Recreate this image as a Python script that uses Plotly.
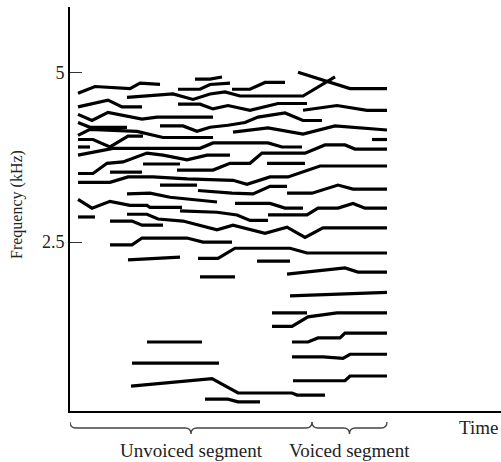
import plotly.graph_objects as go

# Formant-like tracks: time (arbitrary units, 0 = start of recording) and frequency (kHz)
track_times = [
    [8, 25, 60, 70, 90],
    [125, 140, 152],
    [108, 130, 140, 160],
    [162, 180, 195, 215],
    [228, 260, 280, 317],
    [57, 103, 123, 140, 155, 170, 233, 265],
    [8, 38, 52, 72],
    [108, 130, 143, 158, 180, 208, 237],
    [233, 267, 297, 317],
    [8, 22, 38, 72, 87, 143],
    [90, 113, 127, 140, 158, 175, 188, 215, 233, 252],
    [163, 198, 233, 265, 317],
    [302, 317],
    [8, 20, 57],
    [8, 20, 67, 93, 143],
    [8, 23, 40, 58, 73],
    [8, 20],
    [8, 43, 130, 143, 198, 212, 232],
    [8, 23, 37, 53, 77, 93, 117, 137, 160],
    [73, 110],
    [40, 72],
    [107, 143, 160, 180, 192, 235, 255, 275, 285, 317],
    [197, 235],
    [8, 40, 58, 83, 117, 163, 177, 200, 218, 250, 317],
    [90, 127],
    [128, 147, 162, 183, 200, 217],
    [217, 242, 268, 283, 317],
    [57, 80, 100, 120, 147],
    [8, 22, 40, 60, 77, 80, 112],
    [165, 200, 215, 233],
    [198, 237, 248, 268, 283, 295, 317],
    [8, 25],
    [110, 147, 167, 180, 198],
    [57, 77, 88, 113, 147, 163, 195, 217, 235, 253, 317],
    [40, 62, 72, 93],
    [40, 62, 72, 117, 133, 162],
    [128, 148, 165, 220, 237, 317],
    [58, 110],
    [187, 220],
    [130, 165],
    [217, 275, 288, 317],
    [220, 317],
    [202, 237],
    [202, 222, 238, 267, 317],
    [222, 238, 248, 270, 275, 317],
    [77, 132],
    [222, 253, 273, 280, 317],
    [62, 149],
    [223, 275, 280, 317],
    [61, 142, 168, 222, 227, 255],
    [135, 158, 168, 190],
]

track_freqs = [
    [4.69, 4.79, 4.76, 4.84, 4.82],
    [4.90, 4.90, 4.93],
    [4.75, 4.75, 4.82, 4.84],
    [4.75, 4.75, 4.85, 4.85],
    [5.00, 4.85, 4.76, 4.76],
    [4.63, 4.68, 4.60, 4.68, 4.71, 4.65, 4.65, 4.93],
    [4.49, 4.59, 4.49, 4.49],
    [4.53, 4.53, 4.46, 4.51, 4.44, 4.54, 4.54],
    [4.44, 4.51, 4.44, 4.44],
    [4.38, 4.29, 4.41, 4.31, 4.34, 4.34],
    [4.21, 4.21, 4.13, 4.19, 4.22, 4.26, 4.34, 4.40, 4.29, 4.29],
    [4.12, 4.18, 4.09, 4.21, 4.15],
    [4.01, 4.01],
    [4.26, 4.19, 4.19],
    [4.07, 4.16, 4.13, 4.04, 4.04],
    [4.01, 4.01, 3.90, 4.06, 4.06],
    [3.90, 3.90],
    [3.78, 3.88, 3.88, 3.96, 3.96, 3.90, 3.90],
    [3.51, 3.51, 3.66, 3.68, 3.81, 3.78, 3.71, 3.78, 3.78],
    [3.65, 3.65],
    [3.53, 3.53],
    [3.56, 3.56, 3.66, 3.66, 3.81, 3.81, 3.93, 3.93, 3.87, 3.87],
    [3.66, 3.66],
    [3.38, 3.38, 3.46, 3.46, 3.43, 3.41, 3.35, 3.46, 3.46, 3.62, 3.62],
    [3.34, 3.34],
    [3.26, 3.24, 3.22, 3.21, 3.32, 3.32],
    [3.22, 3.22, 3.34, 3.28, 3.28],
    [3.21, 3.22, 3.16, 3.13, 3.09],
    [3.13, 3.00, 3.10, 3.04, 3.04, 3.01, 3.01],
    [3.07, 3.07, 3.00, 3.00],
    [2.90, 2.90, 3.00, 3.00, 3.07, 3.00, 3.00],
    [2.87, 2.87],
    [2.96, 2.94, 2.90, 2.82, 2.82],
    [2.91, 2.91, 2.84, 2.81, 2.68, 2.75, 2.63, 2.72, 2.57, 2.71, 2.71],
    [2.81, 2.81, 2.75, 2.75],
    [2.46, 2.46, 2.56, 2.56, 2.50, 2.50],
    [2.26, 2.26, 2.41, 2.41, 2.34, 2.34],
    [2.24, 2.28],
    [2.22, 2.22],
    [1.99, 1.99],
    [2.03, 2.12, 2.06, 2.06],
    [1.71, 1.76],
    [1.46, 1.46],
    [1.26, 1.26, 1.40, 1.46, 1.46],
    [1.03, 1.03, 1.09, 1.09, 1.16, 1.16],
    [1.03, 1.03],
    [0.81, 0.81, 0.79, 0.85, 0.85],
    [0.72, 0.72],
    [0.46, 0.46, 0.53, 0.53],
    [0.38, 0.49, 0.28, 0.28, 0.25, 0.25],
    [0.19, 0.19, 0.15, 0.15],
]

y_tick_vals = [2.5, 5]
y_tick_text = ["2.5", "5"]
segment_bounds = [0, 242, 317]          # time where each segment starts/ends
segment_labels = ["Unvoiced segment", "Voiced segment"]
x_axis_label = "Time"
y_axis_label = "Frequency (kHz)"

X_RANGE = [0, 431]
Y_RANGE = [0.015, 5.96]
PLOT_H = 404  # px

SERIF = "Liberation Serif, Times New Roman, serif"
TXT = "#222222"

fig = go.Figure()
for t, f in zip(track_times, track_freqs):
    fig.add_trace(go.Scatter(x=t, y=f, mode="lines",
                             line=dict(color="black", width=3.2),
                             hoverinfo="skip", showlegend=False))


def py(px_below):
    """paper y for a point px_below pixels under the x axis"""
    return -px_below / PLOT_H


# curly braces under the x axis
ya, yb, yc = py(11), py(17), py(23)
r = 6
shapes = []
for x0, x1 in zip(segment_bounds[:-1], segment_bounds[1:]):
    xm = (x0 + x1) / 2
    path = (f"M {x0},{ya} Q {x0},{yb} {x0 + r},{yb} L {xm - r},{yb} "
            f"Q {xm},{yb} {xm},{yc} Q {xm},{yb} {xm + r},{yb} "
            f"L {x1 - r},{yb} Q {x1},{yb} {x1},{ya}")
    shapes.append(dict(type="path", path=path, xref="x", yref="paper",
                       line=dict(color="#444444", width=1.3)))

annotations = []
for x0, x1, lab in zip(segment_bounds[:-1], segment_bounds[1:], segment_labels):
    annotations.append(dict(text=lab, x=(x0 + x1) / 2, y=py(39), xref="x", yref="paper",
                            xanchor="center", yanchor="middle", showarrow=False,
                            font=dict(family=SERIF, size=19, color=TXT)))
annotations.append(dict(text=x_axis_label, x=408, y=py(16), xref="x", yref="paper",
                        xanchor="center", yanchor="middle", showarrow=False,
                        font=dict(family=SERIF, size=19, color=TXT)))
annotations.append(dict(text=y_axis_label, x=0, y=0.51, xref="paper", yref="paper",
                        xanchor="center", yanchor="middle", xshift=-53, textangle=-90,
                        showarrow=False, font=dict(family=SERIF, size=16, color=TXT)))

fig.update_layout(
    width=501, height=462,
    margin=dict(l=70, r=0, t=7, b=51, pad=0),
    paper_bgcolor="white", plot_bgcolor="white",
    shapes=shapes, annotations=annotations,
    xaxis=dict(range=X_RANGE, showgrid=False, zeroline=False, showticklabels=False,
               ticks="", showline=True, linecolor="black", linewidth=2, fixedrange=True),
    yaxis=dict(range=Y_RANGE, showgrid=False, zeroline=False, tickvals=y_tick_vals,
               ticktext=y_tick_text, ticks="inside", ticklen=12, tickwidth=1,
               tickcolor="#333333", showline=True, linecolor="black", linewidth=2,
               tickfont=dict(family=SERIF, size=18, color=TXT), fixedrange=True),
)

fig.write_html("out.html", config={"displayModeBar": False})
